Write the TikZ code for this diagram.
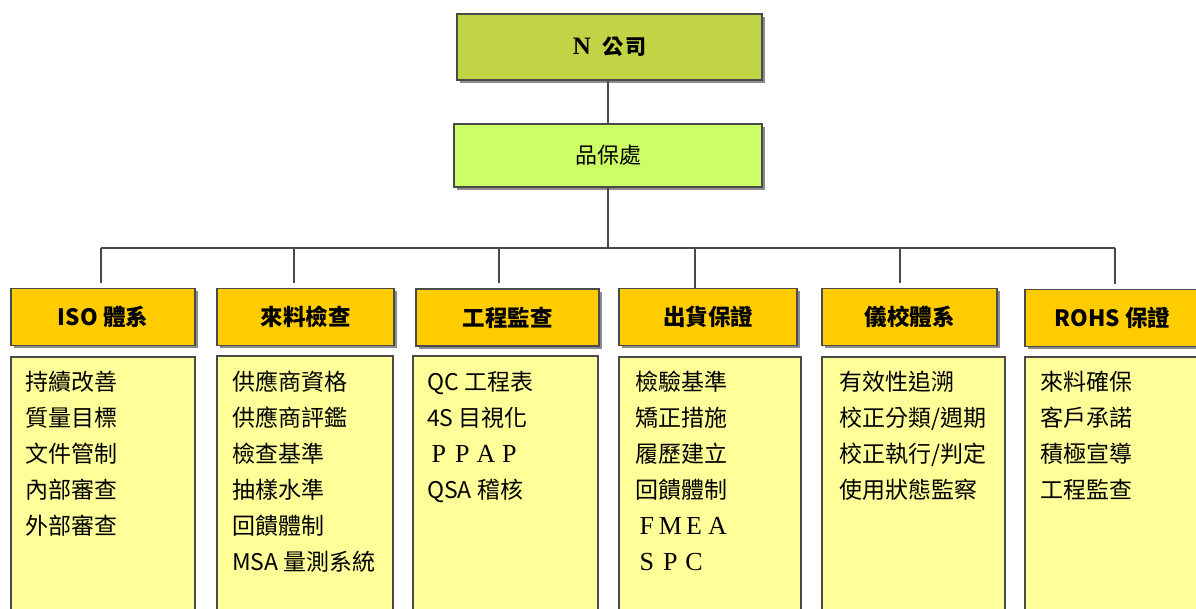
\documentclass[tikz,border=0pt]{standalone}
\usepackage{fontspec}
\setmainfont{Noto Sans CJK TC}
\newfontfamily\serifl{Liberation Serif}
\usetikzlibrary{shadows}
\definecolor{topc}{HTML}{C0D445}
\definecolor{deptc}{HTML}{CCFF66}
\definecolor{hdrc}{HTML}{FFCC00}
\definecolor{bodyc}{HTML}{FFFF99}
\definecolor{strokec}{HTML}{4A4A4A}
\newcommand\fwl[1]{\makebox[23.5pt][c]{\serifl\fontsize{26}{36}\selectfont #1}}
\begin{document}
\begin{tikzpicture}[x=1pt,y=-1pt,
  boxbase/.style={draw=strokec, line width=1.2pt, inner sep=0pt},
  shbox/.style={boxbase, drop shadow={shadow xshift=2.5pt, shadow yshift=-2.5pt, fill=black, opacity=0.45}},
  topbox/.style={shbox, fill=topc, minimum width=305pt, minimum height=66pt, font=\fontsize{21}{24}\selectfont\bfseries},
  deptbox/.style={shbox, fill=deptc, minimum width=308pt, minimum height=63pt, font=\fontsize{22}{26}\selectfont},
  hdr/.style={shbox, fill=hdrc, minimum height=57pt, font=\fontsize{22.5}{26}\selectfont\bfseries},
  body/.style={boxbase, fill=bodyc, minimum height=290pt},
  item/.style={anchor=north west, inner sep=0pt, align=left, font=\fontsize{23}{36}\selectfont},
  conn/.style={draw=strokec, line width=1.5pt}]
\useasboundingbox (0,0) rectangle (1196,608);
\clip (0,0) rectangle (1196,608);

\node[topbox] (n) at (609.5,47) {{\serifl\bfseries\fontsize{25}{30}\selectfont N}\hspace{11pt}公\hspace{2pt}司};
\node[deptbox] (pb) at (608,155.5) {品保處};

\node[hdr, minimum width=184pt] (h1) at (103,317) {ISO 體系};
\node[hdr, minimum width=177pt] (h2) at (305.5,317) {來料檢查};
\node[hdr, minimum width=183pt] (h3) at (507.5,317.5) {工程監查};
\node[hdr, minimum width=178pt] (h4) at (708,317) {出貨保證};
\node[hdr, minimum width=175pt] (h5) at (909.5,317) {儀校體系};
\node[hdr, minimum width=175pt] (h6) at (1112.5,318) {ROHS 保證};

\node[body, minimum width=184pt] (b1) at (103,502) {};
\node[body, minimum width=176pt] (b2) at (305,501) {};
\node[body, minimum width=185pt] (b3) at (505.5,501) {};
\node[body, minimum width=182pt] (b4) at (710,502) {};
\node[body, minimum width=183pt] (b5) at (913.5,502) {};
\node[body, minimum width=185pt] (b6) at (1117.5,502) {};

\node[item] (t1) at (25,371) {持續改善\\質量目標\\文件管制\\內部審查\\外部審查};
\node[item] (t2) at (232,371) {供應商資格\\供應商評鑑\\檢查基準\\抽樣水準\\回饋體制\\MSA 量測系統};
\node[item] (t3) at (427,371) {QC 工程表\\4S 目視化\\\fwl{P}\fwl{P}\fwl{A}\fwl{P}\\QSA 稽核};
\node[item] (t4) at (635,371) {檢驗基準\\矯正措施\\履歷建立\\回饋體制\\\fwl{F}\fwl{M}\fwl{E}\fwl{A}\\\fwl{S}\fwl{P}\fwl{C}};
\node[item] (t5) at (839,371) {有效性追溯\\校正分類/週期\\校正執行/判定\\使用狀態監察};
\node[item] (t6) at (1040,371) {來料確保\\客戶承諾\\積極宣導\\工程監查};

\coordinate (d1) at (101,248);
\coordinate (d2) at (294,248);
\coordinate (d3) at (499,248);
\coordinate (d4) at (695,248);
\coordinate (d5) at (900,248);
\coordinate (d6) at (1115,248);

\draw[conn] (pb.north |- n.south) -- (pb.north);
\draw[conn] (pb.south) -- (pb.south |- d1);
\draw[conn] (d1) -- (d6);
\foreach \i in {1,2,3,5,6} {\draw[conn, shorten >=5pt] (d\i) -- (d\i |- h\i.north);}
\draw[conn] (d4) -- (d4 |- h4.north);
\end{tikzpicture}
\end{document}
